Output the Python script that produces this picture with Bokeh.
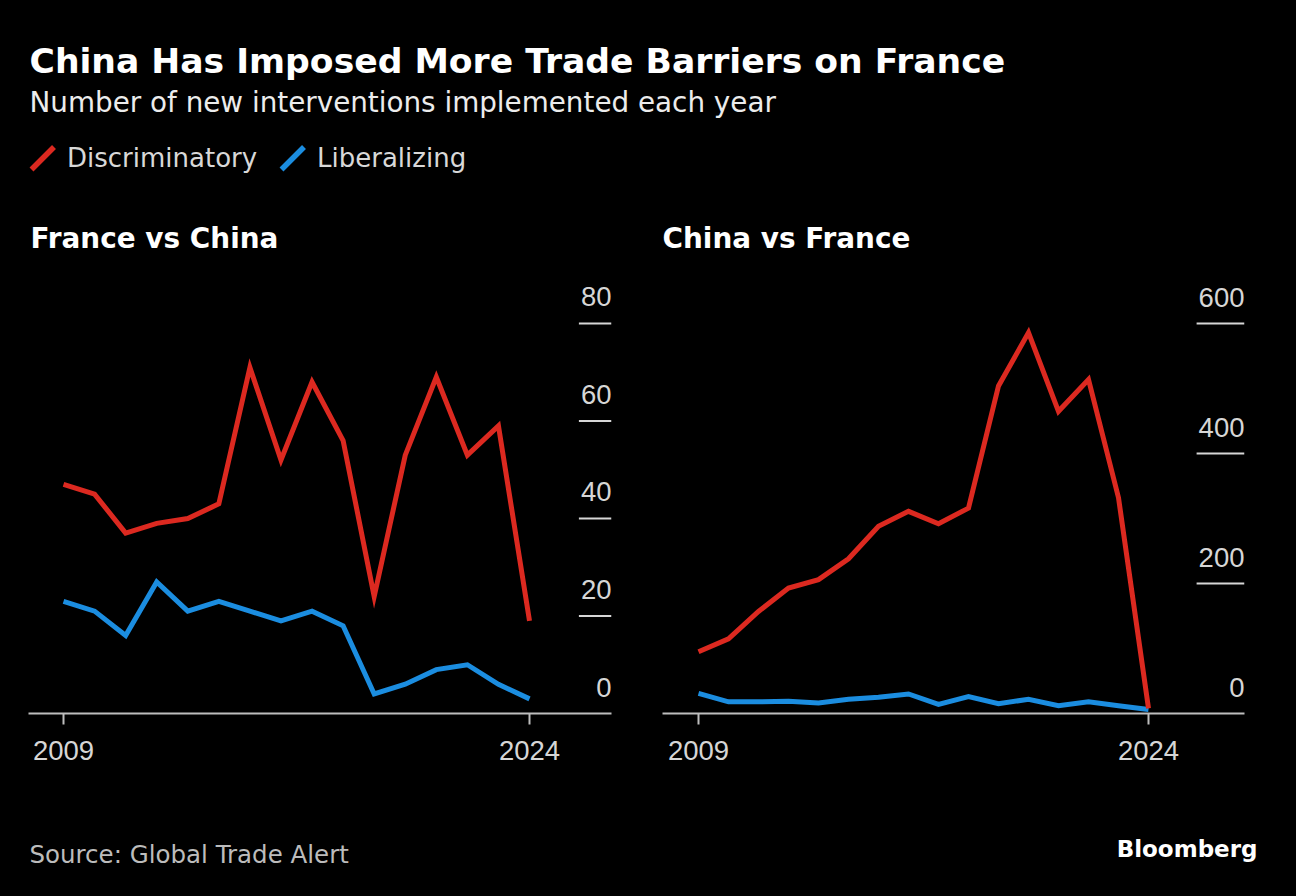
from bokeh.plotting import figure
from bokeh.models import Range1d, LinearAxis, FixedTicker
from bokeh.layouts import column, row
from bokeh.embed import file_html
from bokeh.resources import INLINE
from bokeh.core.properties import value

# ---------------- data ----------------
years = list(range(2009, 2025))
fr_cn_discriminatory = [47, 45, 37, 39, 40, 43, 71, 52, 68, 56, 24, 53, 69, 53, 59, 19]
fr_cn_liberalizing = [23, 21, 16, 27, 21, 23, 21, 19, 21, 18, 4, 6, 9, 10, 6, 3]
cn_fr_discriminatory = [95, 115, 157, 193, 206, 238, 288, 311, 292, 316, 504, 586, 465, 514, 332, 8]
cn_fr_liberalizing = [31, 18, 18, 19, 16, 22, 25, 30, 14, 26, 15, 22, 12, 18, 12, 6]
fr_cn_ticks = [0, 20, 40, 60, 80]
cn_fr_ticks = [0, 200, 400, 600]
x_ticks = [2009, 2024]
x_tick_labels = {2009: "2009", 2024: "2024"}

title = "China Has Imposed More Trade Barriers on France"
subtitle = "Number of new interventions implemented each year"
series_names = ["Discriminatory", "Liberalizing"]
panel_titles = ["France vs China", "China vs France"]
source = "Source: Global Trade Alert"

# ---------------- style ----------------
RED = "#dc2920"
BLUE = "#1b8de0"
BG = "#000000"
AXIS = "#bdbdbd"
LABEL = "#d6d6d6"
SANS = value("DejaVu Sans")
TICKF = "Liberation Sans"

W = 1280


def blank(width, height):
    p = figure(width=width, height=height, x_range=Range1d(0, width), y_range=Range1d(height, 0),
               x_axis_type=None, y_axis_type=None, min_border=0,
               output_backend="svg", toolbar_location=None,
               background_fill_color=BG, border_fill_color=BG, outline_line_color=None)
    p.grid.visible = False
    return p


# ---------------- header ----------------
HH = 257
head = blank(W, HH)
head.text(x=[21], y=[52.8], text=[title], text_font=SANS, text_font_size=value("34.6px"),
          text_font_style="bold", text_color="#ffffff", text_baseline="middle")
head.text(x=[21], y=[94.2], text=[subtitle], text_font=SANS, text_font_size=value("27.8px"),
          text_color="#ececec", text_baseline="middle")
head.segment(x0=[23, 273], y0=[161, 161], x1=[45.5, 295.5], y1=[138.5, 138.5],
             color=[RED, BLUE], line_width=5.5)
head.text(x=[58.5, 308.5], y=[149.5, 149.5], text=series_names, text_font=SANS,
          text_font_size=value("26px"), text_color="#d8d8d8", text_baseline="middle")
head.text(x=[22, 654], y=[229.5, 229.5], text=panel_titles, text_font=SANS,
          text_font_size=value("27.9px"), text_font_style="bold", text_color="#ffffff",
          text_baseline="middle")


# ---------------- panels ----------------
def panel(width, bl, br, xs, xe, ye, ticks, discr, lib):
    p = figure(width=width, height=535, x_range=Range1d(xs, xe), y_range=Range1d(0, ye),
               x_axis_type=None, y_axis_type=None,
               min_border_left=bl, min_border_right=br, min_border_top=15, min_border_bottom=87,
               output_backend="svg", toolbar_location=None,
               background_fill_color=BG, border_fill_color=BG, outline_line_color=None)
    p.grid.visible = False
    p.line(years, lib, line_color=BLUE, line_width=5, line_join="miter")
    p.line(years, discr, line_color=RED, line_width=5, line_join="miter")
    frame_w = width - bl - br
    pxu = frame_w / (xe - xs)
    labels = [str(t) for t in ticks]
    seg_t = ticks[1:]
    x0 = [xe - (len(str(t)) * 15.3 + 2) / pxu for t in seg_t]
    p.segment(x0=x0, y0=seg_t, x1=[xe] * len(seg_t), y1=seg_t, line_color=LABEL, line_width=2)
    p.text(x=[xe] * len(ticks), y=ticks, text=labels, text_align="right",
           text_baseline="middle", y_offset=-26.5, text_font=value(TICKF),
           text_font_size=value("27.5px"), text_color=LABEL)
    ax = LinearAxis(ticker=FixedTicker(ticks=x_ticks), major_label_overrides=x_tick_labels,
                    axis_line_color=AXIS, axis_line_width=2,
                    major_tick_line_color=AXIS, major_tick_line_width=2,
                    major_tick_in=0, major_tick_out=11, minor_tick_line_color=None,
                    major_label_standoff=16, major_label_text_font=TICKF,
                    major_label_text_font_size="27.5px", major_label_text_color=LABEL)
    p.add_layout(ax, "below")
    return p


left = panel(640, 20, 37, 2007.873, 2026.639, 88.82, fr_cn_ticks,
             fr_cn_discriminatory, fr_cn_liberalizing)
right = panel(640, 14, 44, 2007.8, 2027.2, 666.2, cn_fr_ticks,
              cn_fr_discriminatory, cn_fr_liberalizing)

# ---------------- footer ----------------
foot = blank(W, 88)
foot.text(x=[21], y=[54.2], text=[source], text_font=SANS, text_font_size=value("24.5px"),
          text_color="#bcbcbc", text_baseline="middle")
foot.text(x=[1249], y=[48.3], text=["Bloomberg"], text_font=SANS, text_font_size=value("23px"),
          text_font_style="bold", text_color="#ffffff", text_align="right",
          text_baseline="middle")

layout = column(head, row(left, right), foot)
html = file_html(layout, INLINE)
css = ("<style>html, body { background-color: #000000 !important; } "
       "body { padding: 8px !important; }</style>")
html = html.replace("</head>", css + "</head>", 1)
open("out.html", "w").write(html)
